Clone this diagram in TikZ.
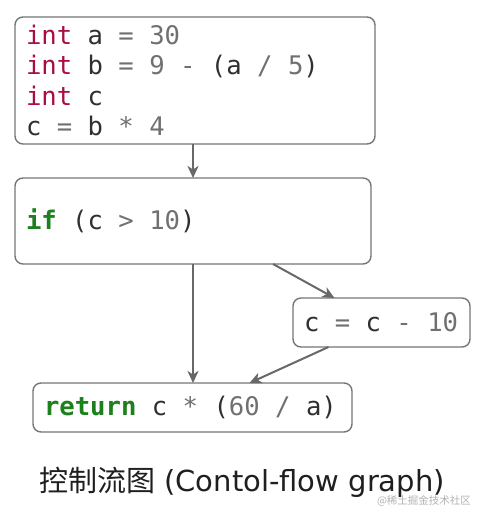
\documentclass[tikz,border=0pt]{standalone}
\usepackage{fontspec}
\setmonofont{DejaVu Sans Mono}
\newfontfamily\cjk{Noto Sans CJK SC}
\newfontfamily\capsans{DejaVu Sans}
\usetikzlibrary{arrows.meta,positioning}
\definecolor{KwRed}{RGB}{170,13,69}
\definecolor{KwGreen}{RGB}{28,128,28}
\definecolor{OpGray}{RGB}{112,112,112}
\definecolor{IdDark}{RGB}{48,48,48}
\definecolor{EdgeGray}{RGB}{118,118,118}
\definecolor{ArrowGray}{RGB}{104,104,104}

\newcommand\codekw[1]{\textcolor{KwRed}{#1}}
\newcommand\codeflow[1]{\textcolor{KwGreen}{\bfseries #1}}
\newcommand\codeop[1]{\textcolor{OpGray}{#1}}

\begin{document}
\begin{tikzpicture}[
    x=1pt, y=1pt,
    block/.style={draw=EdgeGray, line width=1.4pt, rounded corners=8pt, fill=white,
      anchor=north west, inner xsep=11pt, inner ysep=0pt, outer sep=0pt, align=left,
      text=IdDark, font=\ttfamily\fontsize{25.6}{30.4}\selectfont},
    arr/.style={-{Stealth[length=12pt, width=11pt, inset=3.5pt]}, line width=2pt, draw=ArrowGray}
  ]
    \useasboundingbox (0,0) rectangle (480,-519);
    \node[block, minimum width=360pt, minimum height=127pt] (decl) at (15,-17)
      {\makebox[338pt][l]{\codekw{int} a \codeop{= 30}}\\
       \codekw{int} b \codeop{= 9 -} (a \codeop{/ 5})\\
       \codekw{int} c\\
       c \codeop{=} b \codeop{* 4}};
    \node[block, below=34pt of decl.south west, anchor=north west,
      minimum width=356pt, minimum height=86pt] (cond)
      {\makebox[334pt][l]{\codeflow{if} (c \codeop{> 10})}};
    \node[block, below right=34pt and -78pt of cond.south east,
      minimum width=177pt, minimum height=49pt] (dec)
      {\makebox[155pt][l]{c \codeop{=} c \codeop{- 10}}};
    \node[block, below right=119pt and 18pt of cond.south west,
      minimum width=319pt, minimum height=49pt] (ret)
      {\makebox[297pt][l]{\codeflow{return} c \codeop{*} (\codeop{60 /} a)}};
    \draw[arr] (decl.south -| cond.south) -- (cond.north);
    \draw[arr] (cond.south) -- (cond.south |- ret.north);
    \draw[arr] ([xshift=80pt]cond.south) -- ([xshift=-47pt]dec.north);
    \draw[arr] ([xshift=-53pt]dec.south) -- ([xshift=57pt]ret.north);
    \node[font=\capsans\fontsize{29}{30}\selectfont, text=black!88] (cap) at (242,-482)
      {{\cjk 控制流图} (Contol-flow graph)};
    \node[font=\cjk\fontsize{10.5}{12}\selectfont, text=black!30] (mark) at (424,-501)
      {@稀土掘金技术社区};
  \end{tikzpicture}
\end{document}
